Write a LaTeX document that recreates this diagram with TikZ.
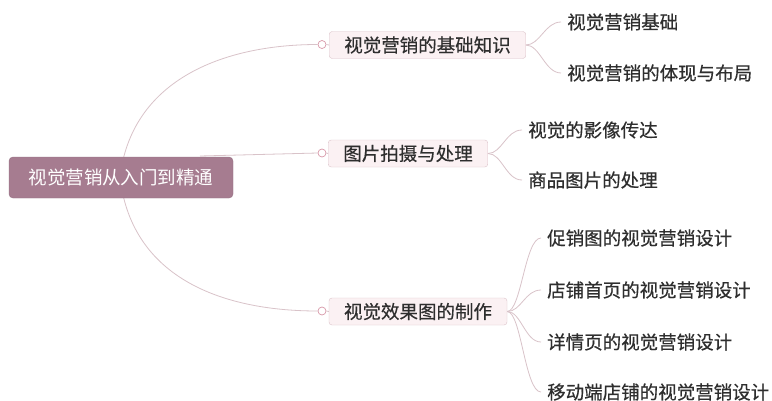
\documentclass[tikz,border=0pt]{standalone}
\usepackage{fontspec}
\setmainfont{Noto Sans CJK SC}[FakeBold=0.5]
\newfontfamily\rootfont{Noto Sans CJK SC}
\definecolor{rootfill}{HTML}{A67C90}
\definecolor{boxfill}{HTML}{FBF1F3}
\definecolor{boxline}{HTML}{DCC3CA}
\definecolor{linkc}{HTML}{D9C3C9}
\definecolor{dotc}{HTML}{D898A8}
\definecolor{txt}{HTML}{2E2E2E}
\tikzset{
  rootbox/.style={draw=rootfill!90!black, fill=rootfill, rounded corners=4pt, text=white,
    font=\rootfont\fontsize{18.5}{20}\selectfont, minimum width=224pt, minimum height=41pt, inner sep=0pt},
  branchbox/.style={draw=boxline, fill=boxfill, rounded corners=3pt, text=txt,
    font=\fontsize{18.5}{20}\selectfont, inner xsep=15pt, inner ysep=0pt, minimum height=27pt},
  leaf/.style={anchor=west, inner sep=0pt, text=txt, font=\fontsize{18.5}{20}\selectfont},
  link/.style={draw=linkc, line width=0.8pt},
  knob/.style={circle, draw=dotc, fill=white, line width=0.7pt, minimum size=8pt, inner sep=0pt}
}
\begin{document}
\begin{tikzpicture}[x=1pt,y=-1pt]
\useasboundingbox[fill=white] (0,0) rectangle (772,400);
% root
\coordinate (rt) at (123,160);
\coordinate (rb) at (123,195);
\coordinate (rm) at (200,156);
% branches
\node[branchbox] (b1) at (427.5,45) {视觉营销的基础知识};
\node[branchbox] (b2) at (408,153.5) {图片拍摄与处理};
\node[branchbox] (b3) at (418,311.5) {视觉效果图的制作};
\node[knob] (k1) at (322,44.5) {};
\node[knob] (k2) at (322,153) {};
\node[knob] (k3) at (322,311) {};
% main links
\draw[link] (rt) .. controls (143,75) and (230,44.5) .. (k1.west);
\draw[link] (rm) -- (k2.west);
\draw[link] (rb) .. controls (143,283) and (230,311) .. (k3.west);
\draw[link] (k1.east) -- (b1.west);
\draw[link] (k2.east) -- (b2.west);
\draw[link] (k3.east) -- (b3.west);
\node[rootbox] (root) at (121,177.5) {视觉营销从入门到精通};
% leaves
\node[leaf] (l11) at (567,22) {视觉营销基础};
\node[leaf] (l12) at (567,73) {视觉营销的体现与布局};
\node[leaf] (l21) at (528,130) {视觉的影像传达};
\node[leaf] (l22) at (528,180) {商品图片的处理};
\node[leaf] (l31) at (547,238) {促销图的视觉营销设计};
\node[leaf] (l32) at (547,290) {店铺首页的视觉营销设计};
\node[leaf] (l33) at (547,342) {详情页的视觉营销设计};
\node[leaf] (l34) at (547,392) {移动端店铺的视觉营销设计};
% leaf links
\foreach \b/\l in {b1/l11,b1/l12,b2/l21,b2/l22,b3/l31,b3/l32,b3/l33,b3/l34}{
  \draw[link] (\b.east) .. controls +(14,0) and +(-16,0) .. ([xshift=-6pt]\l.west);
}
\end{tikzpicture}
\end{document}
